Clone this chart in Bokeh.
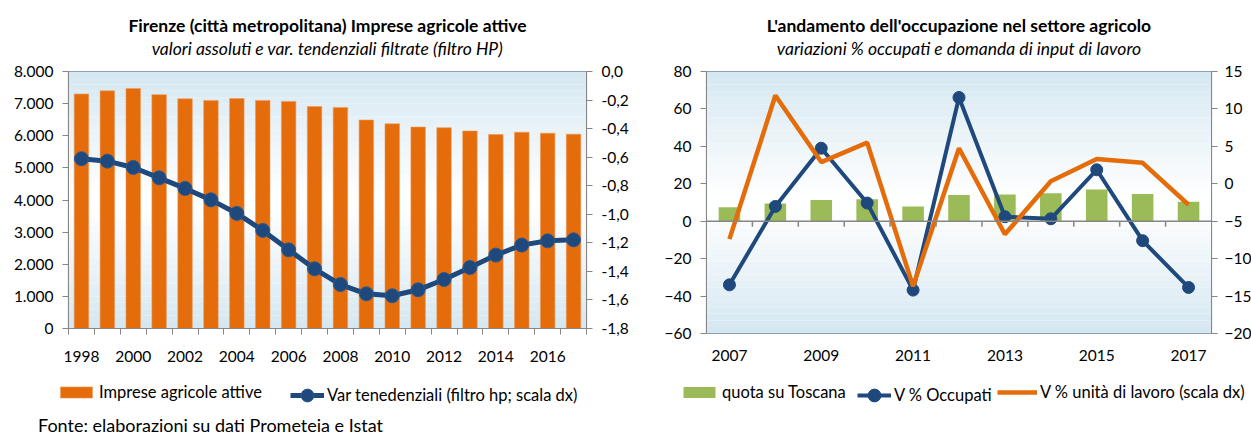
from bokeh.plotting import figure
from bokeh.models import (Range1d, LinearAxis, FixedTicker, SingleIntervalTicker,
                          CustomJSTickFormatter, Legend, LegendItem, Title,
                          BoxAnnotation, Span, Div)
from bokeh.layouts import row, column
from bokeh.embed import file_html
from bokeh.resources import INLINE

# ---------------- data ----------------
years1 = list(range(1998, 2018))
imprese = [7300, 7400, 7470, 7280, 7150, 7100, 7160, 7100, 7070, 6910,
           6880, 6490, 6370, 6270, 6250, 6150, 6040, 6110, 6080, 6050]
var_tend = [-0.611, -0.628, -0.672, -0.745, -0.819, -0.899, -0.994, -1.113, -1.249, -1.382,
            -1.492, -1.557, -1.571, -1.529, -1.457, -1.373, -1.286, -1.216, -1.186, -1.179]

years2 = list(range(2007, 2018))
quota = [7.5, 9.4, 11.3, 11.7, 7.8, 14.0, 14.3, 14.9, 17.0, 14.5, 10.4]
occupati = [-34.0, 7.9, 39.0, 9.7, -36.8, 66.1, 2.4, 1.3, 27.5, -10.4, -35.4]
ula = [-7.4, 11.8, 2.9, 5.5, -13.7, 4.75, -6.75, 0.33, 3.3, 2.8, -2.8]

title1 = "Firenze (città metropolitana) Imprese agricole attive"
sub1 = "valori assoluti e var. tendenziali filtrate (filtro HP)"
title2 = "L'andamento dell'occupazione nel settore agricolo"
sub2 = "variazioni % occupati e domanda di input di lavoro"
source_txt = "Fonte: elaborazioni su dati Prometeia e Istat"

ORANGE = "#E46C0A"
BLUE = "#1F497D"
GREEN = "#9BBB59"
GRAY = "#868686"
FONT = "Lato"
FS = "15.5px"
LFS = "16.5px"
TFS = "17.5px"


def gradient(p, y0, y1, n=40):
    top = (212, 231, 241)
    for i in range(n):
        f = (i + 0.5) / n
        t = min(1.0, abs(f - 0.5) * 2.0) ** 1.1
        c = tuple(int(round(255 * (1 - t) + top[k] * t)) for k in range(3))
        p.add_layout(BoxAnnotation(bottom=y0 + (y1 - y0) * i / n,
                                   top=y0 + (y1 - y0) * (i + 1) / n,
                                   fill_color="#%02x%02x%02x" % c, fill_alpha=1.0,
                                   line_color=None, level="underlay"))


def style_axis(ax):
    ax.axis_line_color = GRAY
    ax.major_tick_line_color = GRAY
    ax.minor_tick_line_color = None
    ax.major_tick_out = 6
    ax.major_tick_in = 0
    ax.major_label_text_font = FONT
    ax.major_label_text_font_size = FS
    ax.major_label_text_color = "#000000"
    ax.major_label_standoff = 9


def add_titles(p, main, sub):
    # small empty spacer panel between frame and subtitle
    p.add_layout(Title(text=" ", text_font_size="1px", standoff=9), "above")
    p.add_layout(Title(text=sub, align="center", text_font=FONT,
                       text_font_size=TFS, text_font_style="italic", text_color="#000000",
                       standoff=1), "above")
    p.add_layout(Title(text=main, align="center", text_font=FONT,
                       text_font_size=TFS, text_font_style="bold", text_color="#000000",
                       standoff=0), "above")


def legend_fig(width, height):
    f = figure(width=width, height=height, x_range=Range1d(0, 1), y_range=Range1d(0, 1),
               x_axis_location=None, y_axis_location=None, min_border=0,
               output_backend="svg", toolbar_location=None)
    f.grid.visible = False
    f.outline_line_color = None
    return f


def make_legend(label, renderers, x, tall=False):
    gh = 32 if tall else 14
    y = 14 - (gh - 14) / 2.0
    return Legend(items=[LegendItem(label=label, renderers=renderers)], location=(x, y),
                  orientation="horizontal", padding=0, margin=0, border_line_color=None,
                  background_fill_alpha=0, glyph_width=40 if not tall else 34,
                  glyph_height=gh, label_height=14, label_standoff=3,
                  label_text_font=FONT, label_text_font_size=LFS, label_text_color="#000000")


THOUSANDS = CustomJSTickFormatter(code="""
    return Math.round(tick).toString().replace(/\\B(?=(\\d{3})+(?!\\d))/g, '.');
""")
DEC1 = CustomJSTickFormatter(code="""
    if (Math.abs(tick) < 1e-9) { return '0,0'; }
    return tick.toFixed(1).replace('.', ',');
""")

# ---------------- left chart ----------------
p1 = figure(frame_width=518, frame_height=257, min_border_left=68, min_border_right=50,
            min_border_top=71, min_border_bottom=42,
            x_range=Range1d(1997.5, 2017.5), y_range=Range1d(0, 8000),
            output_backend="svg", toolbar_location=None)
p1.extra_y_ranges = {"dx": Range1d(-1.8, 0)}
p1.grid.visible = False
p1.outline_line_color = "#7189a8"
p1.outline_line_width = 1.2
p1.border_fill_color = "white"
gradient(p1, 0, 8000)
add_titles(p1, title1, sub1)

style_axis(p1.yaxis[0])
p1.yaxis[0].ticker = SingleIntervalTicker(interval=1000, num_minor_ticks=0)
p1.yaxis[0].formatter = THOUSANDS

ax_r = LinearAxis(y_range_name="dx", ticker=SingleIntervalTicker(interval=0.2, num_minor_ticks=0),
                  formatter=DEC1)
style_axis(ax_r)
p1.add_layout(ax_r, "right")

xa1 = p1.xaxis[0]
style_axis(xa1)
xa1.ticker = FixedTicker(ticks=years1[::2],
                         minor_ticks=[y - 0.5 for y in years1] + [years1[-1] + 0.5])
xa1.major_tick_line_color = None
xa1.major_tick_out = 0
xa1.minor_tick_line_color = GRAY
xa1.minor_tick_out = 6
xa1.minor_tick_in = 0
xa1.major_label_standoff = 16

bar_style1 = dict(fill_color=ORANGE, line_color="#F09a5a", line_width=0.6)
line_style1 = dict(line_color=BLUE, line_width=5)
dot_style1 = dict(size=14, fill_color=BLUE, line_color="#2c5a8f", line_width=1)

p1.vbar(x=years1, top=imprese, width=0.56, **bar_style1)
p1.line(years1, var_tend, y_range_name="dx", **line_style1)
p1.scatter(years1, var_tend, y_range_name="dx", **dot_style1)

# ---------------- right chart ----------------
p2 = figure(frame_width=505, frame_height=262, min_border_left=70, min_border_right=37,
            min_border_top=69, min_border_bottom=39,
            x_range=Range1d(2006.5, 2017.5), y_range=Range1d(-60, 80),
            output_backend="svg", toolbar_location=None)
p2.extra_y_ranges = {"dx": Range1d(-20, 15)}
p2.grid.visible = False
p2.outline_line_color = "#7189a8"
p2.outline_line_width = 1.2
p2.border_fill_color = "white"
gradient(p2, -60, 80)
add_titles(p2, title2, sub2)

style_axis(p2.yaxis[0])
p2.yaxis[0].ticker = SingleIntervalTicker(interval=20, num_minor_ticks=0)
ax_r2 = LinearAxis(y_range_name="dx", ticker=SingleIntervalTicker(interval=5, num_minor_ticks=0))
style_axis(ax_r2)
ax_r2.major_label_standoff = 7
p2.add_layout(ax_r2, "right")

xa2 = p2.xaxis[0]
style_axis(xa2)
xa2.ticker = FixedTicker(ticks=years2[::2])
xa2.major_tick_line_color = None
xa2.major_tick_out = 0
xa2.axis_line_color = None
xa2.major_label_standoff = 16

p2.add_layout(Span(location=0, dimension="width", line_color=GRAY, line_width=1.5))
bnd = [y + 0.5 for y in years2[:-1]]
p2.segment(x0=bnd, y0=[0] * len(bnd), x1=bnd, y1=[-3] * len(bnd), line_color=GRAY, line_width=1.5)

bar_style2 = dict(fill_color=GREEN, line_color=None)
line_style2 = dict(line_color=BLUE, line_width=4)
dot_style2 = dict(size=12, fill_color=BLUE, line_color=BLUE)
line_style3 = dict(line_color=ORANGE, line_width=4.5)

p2.vbar(x=years2, top=quota, width=0.47, **bar_style2)
p2.line(years2, occupati, **line_style2)
p2.scatter(years2, occupati, **dot_style2)
p2.line(years2, ula, y_range_name="dx", **line_style3)

# ---------------- legends (separate strips under each chart) ----------------
# legend renderers hold one real data point each, lying outside the strip's view
LH = 46
l1 = legend_fig(636, LH)
lb1 = l1.vbar(x=years1[:1], top=imprese[:1], width=0.5, **bar_style1)
ll1 = l1.line(years1[:2], var_tend[:2], **line_style1)
ld1 = l1.scatter(years1[:1], var_tend[:1], **dot_style1)
l1.add_layout(make_legend("Imprese agricole attive", [lb1], 56))
l1.add_layout(make_legend("Var tenedenziali (filtro hp; scala dx)", [ll1, ld1], 290, tall=True))

l2 = legend_fig(612, LH)
lb2 = l2.vbar(x=years2[:1], top=quota[:1], width=0.5, **bar_style2)
ll2 = l2.line(years2[:2], occupati[:2], **line_style2)
ld2 = l2.scatter(years2[:1], occupati[:1], **dot_style2)
ll3 = l2.line(years2[:2], ula[:2], **line_style3)
l2.add_layout(make_legend("quota su Toscana", [lb2], 43))
l2.add_layout(make_legend("V % Occupati", [ll2, ld2], 221, tall=True))
l2.add_layout(make_legend("V % unità di lavoro (scala dx)", [ll3], 361))

src = Div(text=source_txt, width=600, height=18, margin=(0, 0, 0, 38),
          styles={"font-family": FONT, "font-size": "18px", "color": "#000000",
                  "line-height": "18px"})

layout = column(row(p1, p2, spacing=0), row(l1, l2, spacing=0), src, spacing=0)
open("out.html", "w").write(file_html(layout, INLINE))
